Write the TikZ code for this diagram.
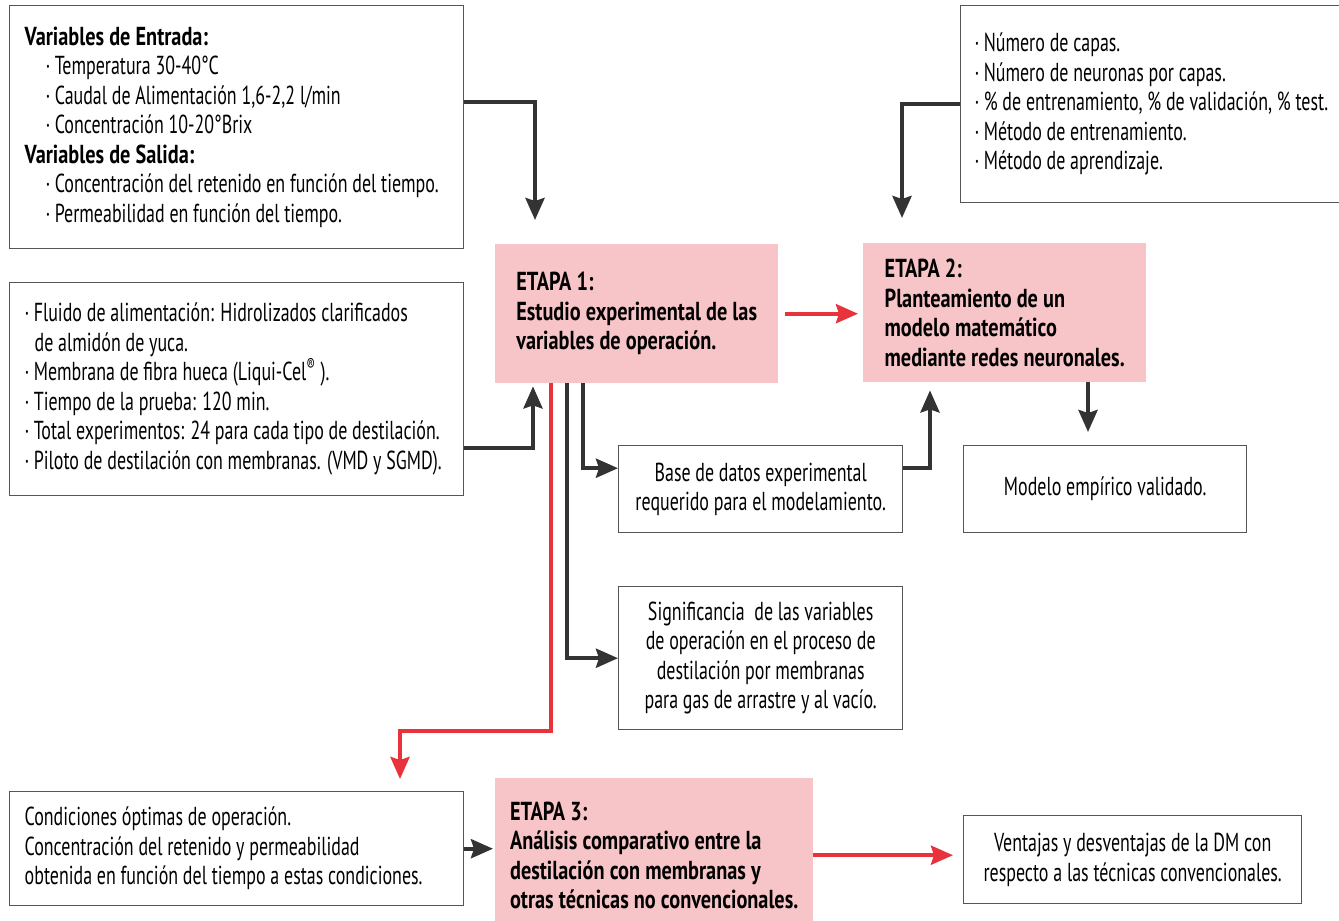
\documentclass[tikz,border=0pt]{standalone}
\usepackage{fontspec}
\setmainfont{PT Sans}[FakeStretch=0.69, BoldFeatures={FakeStretch=0.78}]
\usetikzlibrary{arrows.meta, positioning}
\definecolor{stagefill}{HTML}{F7C4C7}
\definecolor{arrowdark}{HTML}{333333}
\definecolor{arrowred}{HTML}{E8323C}
\definecolor{boxline}{HTML}{555555}
\newcommand{\itm}{\hspace*{21pt}·\,}

\begin{document}
\begin{tikzpicture}[x=1pt, y=-1pt,
      every node/.style={font=\fontsize{26}{29.5}\selectfont, inner xsep=15pt, inner ysep=4pt},
      infobox/.style={draw=boxline, line width=1.4pt, fill=white, align=left, anchor=north west,
                      execute at begin node={\spaceskip=0pt\xspaceskip=0pt}},
      resbox/.style={draw=boxline, line width=1.4pt, fill=white, align=center, anchor=north west},
      stagebox/.style={fill=stagefill, align=left, anchor=north west, inner xsep=8pt,
                       font=\fontsize{26}{29.5}\selectfont\bfseries},
      arr/.style={-{Stealth[length=22pt, width=19pt, inset=3pt]}, line width=4pt, draw=arrowdark},
      redarr/.style={arr, draw=arrowred}
    ]
    \useasboundingbox (0,0) rectangle (1339,921);

    % left column
    \node[infobox, text width=424pt, minimum height=243pt] (entrada) at (9,5)
      {\textbf{Variables de Entrada:}\\
       \itm Temperatura 30-40°C\\
       \itm Caudal de Alimentación 1,6-2,2 l/min\\
       \itm Concentración 10-20°Brix\\
       \textbf{Variables de Salida:}\\
       \itm Concentración del retenido en función del tiempo.\\
       \itm Permeabilidad en función del tiempo.};
    \node[infobox, text width=424pt, minimum height=213pt] (fluido) at (9,282)
      {·\,Fluido de alimentación: Hidrolizados clarificados\\
       \hspace*{10pt}de almidón de yuca.\\
       ·\,Membrana de fibra hueca (Liqui-Cel\textsuperscript{®} ).\\
       ·\,Tiempo de la prueba: 120 min.\\
       ·\,Total experimentos: 24 para cada tipo de destilación.\\
       ·\,Piloto de destilación con membranas. (VMD y SGMD).};
    \node[infobox, text width=424pt, minimum height=114pt] (condiciones) at (9,791)
      {Condiciones óptimas de operación.\\
       Concentración del retenido y permeabilidad\\
       obtenida en función del tiempo a estas condiciones.};

    % stages
    \node[stagebox, minimum width=283pt, minimum height=139pt] (etapa1) at (495,244)
      {ETAPA 1:\\Estudio experimental de las\\variables de operación.};
    \node[stagebox, minimum width=283pt, minimum height=139pt] (etapa2) at (863,243)
      {ETAPA 2:\\Planteamiento de un\\modelo matemático\\mediante redes neuronales.};
    \node[stagebox, minimum width=318pt, minimum height=154pt] (etapa3) at (495,778)
      {ETAPA 3:\\Análisis comparativo entre la\\destilación con membranas y\\otras técnicas no convencionales.};

    % results
    \node[infobox, text width=376pt, inner xsep=14pt, minimum height=197pt] (capas) at (960,5)
      {·\,Número de capas.\\
       ·\,Número de neuronas por capas.\\
       ·\,\% de entrenamiento, \% de validación, \% test.\\
       ·\,Método de entrenamiento.\\
       ·\,Método de aprendizaje.};
    \node[resbox, minimum width=284pt, minimum height=87pt] (basedatos) at (618,445)
      {Base de datos experimental\\requerido para el modelamiento.};
    \node[resbox, minimum width=283pt, minimum height=87pt] (modelo) at (963,445)
      {Modelo empírico validado.};
    \node[resbox, minimum width=284pt, minimum height=143pt] (signif) at (618,586)
      {Significancia~ de las variables\\de operación en el proceso de\\destilación por membranas\\para gas de arrastre y al vacío.};
    \node[resbox, minimum width=338pt, minimum height=88pt] (ventajas) at (963,815)
      {Ventajas y desventajas de la DM con\\respecto a las técnicas convencionales.};

    % connectors
    \draw[arr, shorten >=24pt] ([yshift=25pt]entrada.east) -| ([xshift=40pt]etapa1.north west);
    \draw[arr, shorten >=3pt] ([yshift=-58.5pt]fluido.east) -| ([xshift=38pt]etapa1.south west);
    \draw[arr, shorten >=25pt] (capas.west) -| ([xshift=39pt]etapa2.north west);
    \draw[redarr, shorten <=7pt, shorten >=5pt] (etapa1.east) -- (etapa1.east -| etapa2.west);
    \draw[arr] ([xshift=88pt]etapa1.south west) |- ([yshift=21pt]basedatos.west);
    \draw[arr] ([xshift=72pt]etapa1.south west) |- (signif.west);
    \draw[redarr, shorten >=12pt] ([xshift=56pt]etapa1.south west) -- ++(0,348)
      -| ([xshift=391pt]condiciones.north west);
    \draw[arr, shorten >=8pt] ([yshift=21pt]basedatos.east) -| ([xshift=67pt]etapa2.south west);
    \draw[arr, shorten >=13pt] ([xshift=225pt]etapa2.south west) -- ([xshift=125pt]modelo.north west);
    \draw[arr, shorten >=2pt] (condiciones.east) -- (condiciones.east -| etapa3.west);
    \draw[redarr, shorten >=10pt] (etapa3.east) -- (etapa3.east -| ventajas.west);
\end{tikzpicture}
\end{document}
